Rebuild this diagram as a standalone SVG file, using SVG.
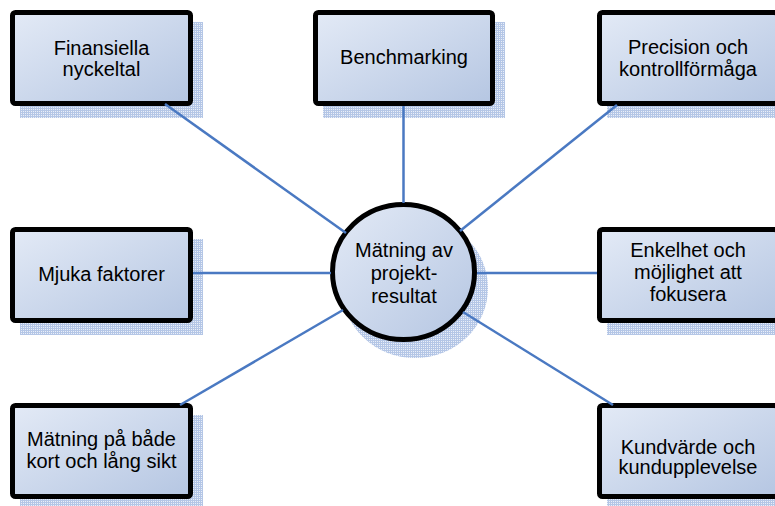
<svg xmlns="http://www.w3.org/2000/svg" width="775" height="506" viewBox="0 0 775 506">
<defs>
<linearGradient id="g" x1="0" y1="0" x2="1" y2="1">
<stop offset="0" stop-color="#e3eaf6"/>
<stop offset="1" stop-color="#b5c6e2"/>
</linearGradient>
<pattern id="hatch" width="2" height="2" patternUnits="userSpaceOnUse">
<rect width="2" height="2" fill="#eaeff8"/>
<rect width="1" height="2" fill="#b4c6e6"/>
<rect width="2" height="1" fill="#b4c6e6"/>
</pattern>
<style>
.box{fill:url(#g);stroke:#000;stroke-width:5}
.sh{fill:url(#hatch)}
.t{font-family:"Liberation Sans",Arial,sans-serif;font-size:20px;fill:#000;text-anchor:middle}
.c{stroke:#4a79c2;stroke-width:2.5;fill:none}
</style>
</defs>
<rect width="775" height="506" fill="#fff"/>

<g id="n-finansiella">
<rect class="sh" x="20" y="22" width="183" height="96"/>
<rect class="box" x="12.5" y="12.5" width="178" height="91" rx="3"/>
<text class="t" x="101.5" y="55">Finansiella</text>
<text class="t" x="101.5" y="76">nyckeltal</text>
</g>

<g id="n-benchmarking">
<rect class="sh" x="323" y="22" width="182" height="96"/>
<rect class="box" x="315.5" y="12.5" width="177" height="91" rx="3"/>
<text class="t" x="404" y="64">Benchmarking</text>
</g>

<g id="n-precision">
<rect class="sh" x="607" y="22" width="183" height="96"/>
<rect class="box" x="599.5" y="12.5" width="178" height="91" rx="3"/>
<text class="t" x="688" y="54">Precision och</text>
<text class="t" x="688" y="76">kontrollförmåga</text>
</g>

<g id="n-mjuka">
<rect class="sh" x="20" y="239" width="183" height="96"/>
<rect class="box" x="12.5" y="229.5" width="178" height="91" rx="3"/>
<text class="t" x="101.5" y="281">Mjuka faktorer</text>
</g>

<g id="n-enkelhet">
<rect class="sh" x="607" y="239" width="183" height="96"/>
<rect class="box" x="599.5" y="229.5" width="178" height="91" rx="3"/>
<text class="t" x="688" y="257">Enkelhet och</text>
<text class="t" x="688" y="279">möjlighet att</text>
<text class="t" x="688" y="301">fokusera</text>
</g>

<g id="n-matning-sikt">
<rect class="sh" x="20" y="415" width="183" height="96"/>
<rect class="box" x="12.5" y="405.5" width="178" height="91" rx="3"/>
<text class="t" x="101.5" y="446">Mätning på både</text>
<text class="t" x="101.5" y="468">kort och lång sikt</text>
</g>

<g id="n-kundvarde">
<rect class="sh" x="607" y="415" width="183" height="96"/>
<rect class="box" x="599.5" y="405.5" width="178" height="91" rx="3"/>
<text class="t" x="688" y="454">Kundvärde och</text>
<text class="t" x="688" y="474">kundupplevelse</text>
</g>

<g id="n-center">
<ellipse class="sh" cx="415" cy="288" rx="73" ry="70"/>
<ellipse class="box" cx="403.5" cy="272" rx="71" ry="67.5"/>
<text class="t" x="404" y="257">Mätning av</text>
<text class="t" x="404" y="280">projekt-</text>
<text class="t" x="404" y="303">resultat</text>
</g>

<g id="connectors">
<line class="c" x1="165" y1="104" x2="346" y2="233"/>
<line class="c" x1="403.5" y1="106" x2="403.5" y2="203"/>
<line class="c" x1="617" y1="105" x2="460" y2="231"/>
<line class="c" x1="193" y1="273" x2="331" y2="273"/>
<line class="c" x1="477" y1="273" x2="597" y2="273"/>
<line class="c" x1="180" y1="405" x2="343" y2="310"/>
<line class="c" x1="613" y1="405" x2="463" y2="312"/>
</g>
</svg>
